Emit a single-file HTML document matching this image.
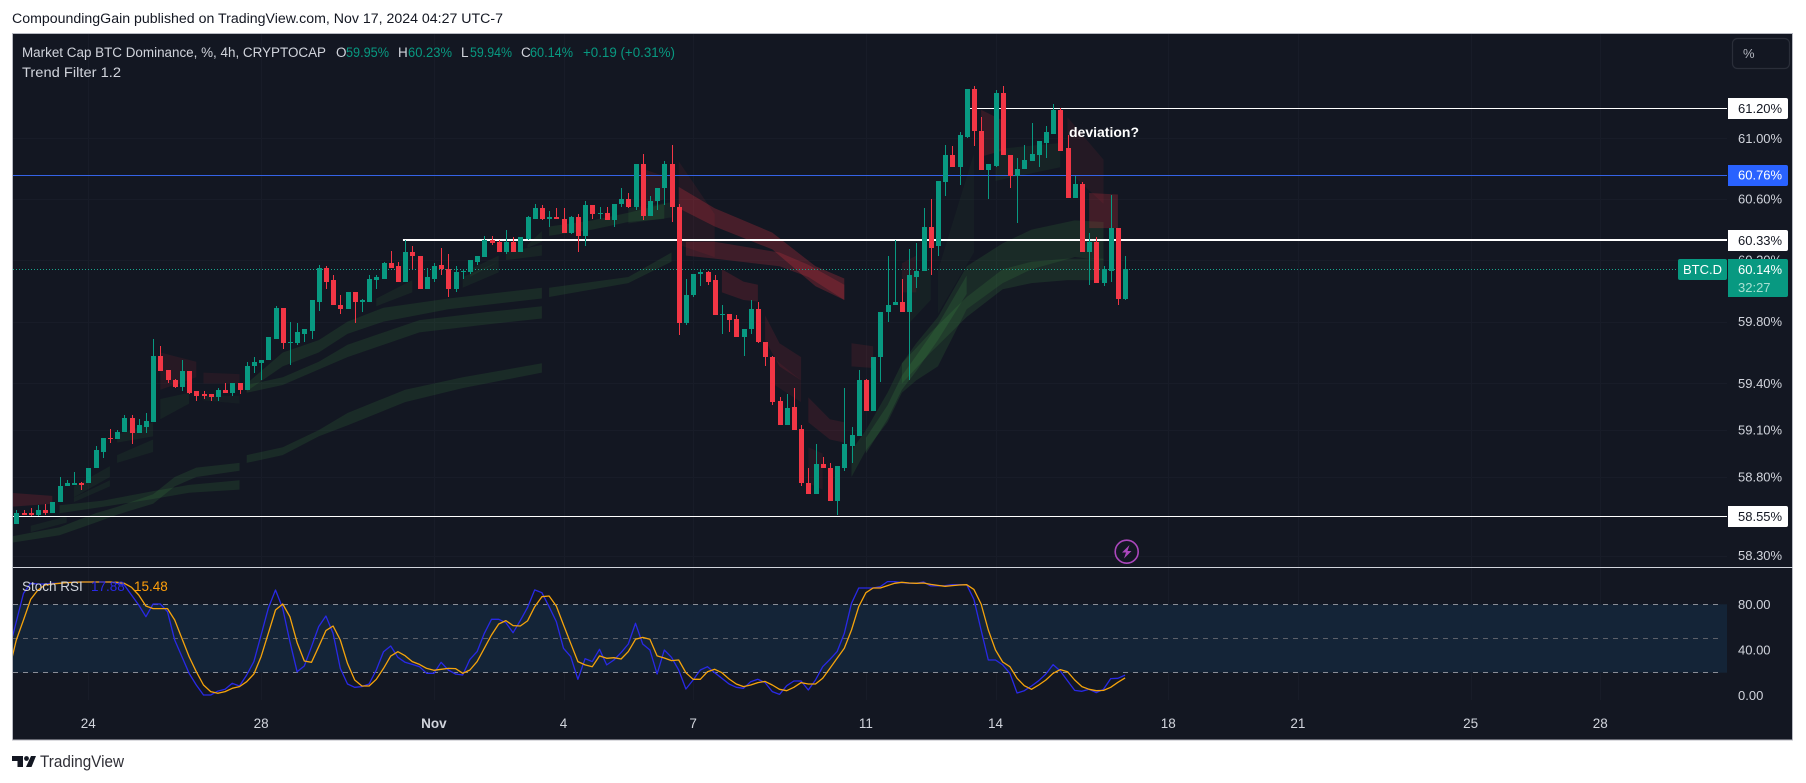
<!DOCTYPE html>
<html lang="en">
<head>
<meta charset="utf-8">
<title>BTC.D chart</title>
<style>
html,body{margin:0;padding:0;background:#fff;width:1806px;height:783px;overflow:hidden}
svg{display:block}
text{font-family:"Liberation Sans",sans-serif}
</style>
</head>
<body>
<svg id="chart" xmlns="http://www.w3.org/2000/svg" width="1806" height="783" viewBox="0 0 1806 783">
  <defs>
    <clipPath id="clip-price"><rect x="13" y="34" width="1714" height="533"/></clipPath>
    <clipPath id="clip-stoch"><rect x="13" y="568" width="1714" height="172"/></clipPath>
  </defs>
  <text x="12" y="23" font-size="13.5" fill="#131722" textLength="491" lengthAdjust="spacingAndGlyphs">CompoundingGain published on TradingView.com, Nov 17, 2024 04:27 UTC-7</text>
  <rect x="12.5" y="33.5" width="1780" height="706.5" fill="#131722" stroke="#b8bac2" stroke-width="1"/>
  <g id="grid"></g>
  <rect x="13" y="604.3" width="1714" height="68.4" fill="#142437"/>
  <g id="stoch-guides"></g>
  <g id="ribbons" clip-path="url(#clip-price)"></g>
  <g id="levels" clip-path="url(#clip-price)"></g>
  <g id="candles" clip-path="url(#clip-price)" shape-rendering="crispEdges"></g>
  <g id="stoch-lines" clip-path="url(#clip-stoch)"></g>
  <line x1="13" x2="1793" y1="567.5" y2="567.5" stroke="#d1d4dc" stroke-width="1"/>
  <g id="axis-labels"></g>
  <g id="level-tags"></g>

  <g>
    <rect x="1678" y="259" width="49" height="21" rx="2" fill="#089981"/>
    <text x="1683" y="274" font-size="13" fill="#ffffff" textLength="39" lengthAdjust="spacingAndGlyphs">BTC.D</text>
    <path d="M1728 259H1786a2 2 0 0 1 2 2V295a2 2 0 0 1 -2 2H1728Z" fill="#089981"/>
    <text x="1738" y="274" font-size="13" fill="#ffffff">60.14%</text>
    <text x="1738" y="292" font-size="13" fill="#a8e0d2">32:27</text>
  </g>

  <g>
    <rect x="1732.5" y="38.5" width="57" height="30" rx="5" fill="#131722" stroke="#2a2e39" stroke-width="1.2"/>
    <text x="1743" y="58" font-size="13" fill="#b2b5be">%</text>
  </g>

  <g font-size="13.5">
    <text x="22" y="57" fill="#d1d4dc" textLength="304" lengthAdjust="spacingAndGlyphs">Market Cap BTC Dominance, %, 4h, CRYPTOCAP</text>
    <text x="336" y="57" fill="#d1d4dc">O</text>
    <text x="346" y="57" fill="#089981" textLength="43" lengthAdjust="spacingAndGlyphs">59.95%</text>
    <text x="398" y="57" fill="#d1d4dc">H</text>
    <text x="408" y="57" fill="#089981" textLength="44" lengthAdjust="spacingAndGlyphs">60.23%</text>
    <text x="461" y="57" fill="#d1d4dc">L</text>
    <text x="470" y="57" fill="#089981" textLength="42" lengthAdjust="spacingAndGlyphs">59.94%</text>
    <text x="521" y="57" fill="#d1d4dc">C</text>
    <text x="530" y="57" fill="#089981" textLength="43" lengthAdjust="spacingAndGlyphs">60.14%</text>
    <text x="583" y="57" fill="#089981" textLength="92" lengthAdjust="spacingAndGlyphs">+0.19 (+0.31%)</text>
    <text x="22" y="77" fill="#d1d4dc" textLength="99" lengthAdjust="spacingAndGlyphs">Trend Filter 1.2</text>
  </g>

  <text x="1069" y="137" font-size="14" font-weight="700" fill="#ffffff">deviation?</text>

  <g>
    <circle cx="1126.7" cy="551.7" r="11.5" fill="#131722" stroke="#ab47bc" stroke-width="1.6"/>
    <path d="M1129.5 545L1122 552.5H1126L1124 558.5L1131.5 551H1127.5Z" fill="#ab47bc"/>
  </g>

  <g font-size="13.5">
    <text x="22" y="591" fill="#d1d4dc">Stoch RSI</text>
    <text x="91" y="591" fill="#2929e6">17.88</text>
    <text x="134" y="591" fill="#ff9f0a">15.48</text>
  </g>

  <g>
    <path d="M12 756H23V767H17.5V761H12ZM31 756H36L31.5 767H26Z" fill="#131722"/>
    <circle cx="26.5" cy="758.5" r="2.4" fill="#131722"/>
    <text x="40" y="767" font-size="16.5" fill="#2e2e35" textLength="84" lengthAdjust="spacingAndGlyphs">TradingView</text>
  </g>
</svg>

<script>
// ---- Price series: one row per 4h bar: open, high, low, close (percent)
const ohlcRows = [
[58.50,58.59,58.50,58.57],[58.57,58.59,58.56,58.56],[58.57,58.60,58.55,58.56],[58.56,58.62,58.55,58.59],[58.59,58.63,58.56,58.57],
[58.57,58.64,58.57,58.64],[58.64,58.80,58.64,58.74],[58.74,58.78,58.74,58.76],[58.75,58.83,58.75,58.76],[58.76,58.77,58.72,58.75],
[58.76,58.86,58.76,58.86],[58.86,59.00,58.86,58.97],[58.96,59.05,58.92,59.05],[59.05,59.11,59.02,59.04],[59.04,59.10,59.04,59.09],
[59.09,59.20,59.09,59.18],[59.18,59.20,59.01,59.08],[59.08,59.17,59.08,59.13],[59.12,59.21,59.08,59.16],[59.15,59.69,59.15,59.58],
[59.58,59.64,59.48,59.48],[59.49,59.49,59.40,59.42],[59.42,59.43,59.37,59.38],[59.38,59.55,59.35,59.48],[59.48,59.48,59.33,59.34],
[59.35,59.35,59.29,59.32],[59.33,59.35,59.30,59.32],[59.33,59.33,59.29,59.31],[59.31,59.37,59.29,59.36],[59.36,59.40,59.34,59.34],
[59.34,59.40,59.32,59.40],[59.40,59.40,59.33,59.36],[59.36,59.54,59.36,59.51],[59.51,59.57,59.47,59.54],[59.53,59.55,59.42,59.55],
[59.55,59.70,59.55,59.70],[59.69,59.90,59.69,59.89],[59.89,59.89,59.62,59.66],[59.66,59.80,59.52,59.67],[59.66,59.79,59.65,59.73],
[59.72,59.75,59.67,59.75],[59.74,59.94,59.69,59.94],[59.93,60.17,59.87,60.15],[60.15,60.16,60.01,60.06],[60.07,60.10,59.91,59.91],
[59.91,59.97,59.85,59.88],[59.88,59.99,59.88,59.99],[59.99,59.99,59.79,59.93],[59.93,59.95,59.86,59.94],[59.93,60.10,59.93,60.08],
[60.07,60.10,60.01,60.09],[60.08,60.19,60.08,60.18],[60.18,60.26,60.15,60.15],[60.16,60.19,60.06,60.06],[60.06,60.33,60.06,60.25],
[60.25,60.29,60.14,60.23],[60.23,60.23,60.01,60.01],[60.01,60.15,60.01,60.09],[60.08,60.18,60.06,60.16],[60.17,60.28,60.10,60.14],
[60.14,60.24,59.96,60.01],[60.01,60.16,59.99,60.12],[60.12,60.14,60.08,60.13],[60.12,60.20,60.11,60.20],[60.19,60.23,60.17,60.23],
[60.22,60.36,60.22,60.33],[60.33,60.36,60.30,60.31],[60.32,60.33,60.25,60.25],[60.25,60.40,60.24,60.32],[60.32,60.35,60.25,60.25],
[60.25,60.35,60.25,60.35],[60.34,60.49,60.33,60.48],[60.47,60.57,60.47,60.54],[60.54,60.56,60.46,60.47],[60.47,60.52,60.42,60.48],
[60.48,60.54,60.47,60.47],[60.47,60.54,60.38,60.38],[60.38,60.49,60.37,60.48],[60.48,60.50,60.25,60.36],[60.36,60.59,60.29,60.56],
[60.56,60.56,60.47,60.50],[60.50,60.55,60.47,60.51],[60.51,60.55,60.46,60.46],[60.46,60.57,60.42,60.57],[60.57,60.67,60.55,60.60],
[60.60,60.64,60.54,60.55],[60.55,60.83,60.53,60.83],[60.83,60.90,60.46,60.49],[60.49,60.62,60.49,60.59],[60.59,60.67,60.53,60.67],
[60.67,60.85,60.56,60.83],[60.83,60.96,60.45,60.55],[60.55,60.57,59.71,59.79],[59.79,60.08,59.78,59.97],[59.97,60.11,59.96,60.11],
[60.11,60.14,60.03,60.12],[60.12,60.13,60.04,60.06],[60.07,60.10,59.84,59.84],[59.84,59.91,59.72,59.85],[59.85,59.85,59.73,59.81],
[59.82,59.84,59.70,59.70],[59.70,59.75,59.58,59.75],[59.75,59.94,59.72,59.88],[59.88,59.93,59.66,59.67],[59.67,59.67,59.51,59.57],
[59.57,59.58,59.26,59.28],[59.29,59.31,59.13,59.13],[59.13,59.33,59.13,59.24],[59.25,59.37,59.10,59.10],[59.11,59.13,58.74,58.76],
[58.76,58.86,58.69,58.69],[58.69,59.01,58.69,58.88],[58.88,58.93,58.86,58.86],[58.86,58.89,58.65,58.65],[58.65,58.87,58.56,58.87],
[58.86,59.37,58.84,59.01],[59.00,59.12,58.89,59.07],[59.06,59.49,59.06,59.42],[59.42,59.43,59.22,59.22],[59.22,59.57,59.22,59.57],
[59.57,59.86,59.41,59.86],[59.86,60.23,59.80,59.91],[59.91,60.33,59.91,59.93],[59.93,60.08,59.86,59.86],[59.86,60.27,59.42,60.10],
[60.09,60.31,60.02,60.13],[60.13,60.54,60.13,60.42],[60.42,60.60,60.10,60.28],[60.29,60.72,60.23,60.72],[60.71,60.96,60.62,60.89],
[60.89,60.95,60.81,60.81],[60.81,61.04,60.69,61.02],[61.01,61.33,61.00,61.33],[61.33,61.35,60.95,61.05],[61.05,61.14,60.79,60.79],
[60.79,60.83,60.60,60.83],[60.82,61.32,60.81,61.30],[61.30,61.35,60.89,60.89],[60.89,60.89,60.67,60.75],[60.75,60.87,60.44,60.80],
[60.80,60.96,60.80,60.86],[60.85,61.10,60.85,60.90],[60.89,60.98,60.81,60.98],[60.97,61.08,60.87,61.04],[61.03,61.23,61.03,61.19],
[61.19,61.20,60.92,60.92],[60.94,61.02,60.61,60.61],[60.61,60.75,60.61,60.70],[60.70,60.71,60.25,60.25],[60.25,60.38,60.04,60.32],
[60.32,60.35,60.05,60.05],[60.05,60.16,60.03,60.14],[60.13,60.63,60.06,60.41],[60.41,60.41,59.91,59.95],[59.95,60.23,59.94,60.14]
];

// ---- Stochastic RSI: first value sits one bar before the first candle
const stochK = [39.9,64.8,89.6,98.4,97.8,97.8,98.4,98.4,99,99.6,99.6,99.6,99.6,99.6,99.6,98.4,96.9,88.2,79.4,69.1,80.3,80.3,73.5,48.7,34.1,19.5,9.2,0.4,0.4,3.9,5.4,10.7,8.3,18,29.7,53.1,76.5,92.5,76.5,47.2,20.9,25.9,42.8,60.4,69.7,54.5,23.8,10.1,7.2,7.8,10.1,22.4,38.4,43.4,33.5,29.1,27.3,25.3,19.5,19.5,29.1,22.4,18.9,18,31.7,38.5,54.5,66.8,66.8,63.9,55.1,65.7,77.1,92.6,90.2,77.9,64.8,41.4,34.1,14.2,32.3,29.7,40.5,26.8,31.1,37.6,45.2,63.3,45.2,39.9,18.9,39.9,33.5,22.4,5.7,13.6,22.4,25.3,20,15.1,10.1,7.2,6.3,12.1,14.2,11.3,3.4,1,8.6,12.7,12.7,4.8,13.6,25.3,31.7,38.5,54.5,80.9,94.3,94.3,94.3,95.5,99.9,99.9,99,98.4,98.4,99.6,96.1,96.1,96.4,97.2,97.2,97.2,84.4,57.5,31.1,31.1,26.8,19.5,2.2,4.2,8.3,13,18.9,27.1,21.5,13,4.5,3.7,5.4,2.5,5.4,14.8,15.1,17.88];
const stochD = [22.4,48.7,66.2,84.4,92.5,96.9,97.8,98.4,99,99.3,99.6,99.6,99.6,99.6,99.6,99.3,98.4,94.9,88.2,78.5,76.2,76.2,76.2,66.2,50.1,34.1,20.9,9.2,3.4,1.9,3.4,6.3,7.8,12.1,18.9,34.1,54.5,75,80.3,69.1,46.4,30.3,29.1,42.8,56.9,61,48.7,28.2,13.6,8.3,8.3,14.2,23.8,34.6,38.4,34.9,29.7,27.3,23.8,22.1,23,23.8,23.6,19.5,22.4,29.7,41.4,53.1,62.7,65.7,61.3,61,65.4,77.9,86.7,87.3,78.5,61.9,45.8,29.7,26.8,25.3,34.7,32.6,33.2,32,38.5,49.3,51,49.3,34.7,32.9,30.6,31.1,20,14.2,14.2,20.9,23,20,14.5,10.1,7.8,9.2,11.3,12.4,9.2,5.4,4.2,7.2,11.3,10.1,10.1,15.1,23.8,32.6,41.4,57.5,77.9,90.2,94.3,94.3,96.4,98.4,99.3,98.7,98.4,98.7,97.5,96.6,95.8,96.4,96.9,97.2,93.1,80.3,57.5,39.9,29.4,25.3,15.1,8.6,5.4,9.2,13.6,19.5,22.7,20.9,13.6,7.8,5.4,4.2,4.5,7.2,11.6,15.48];

// ---- Trend Filter ribbons: bar numbers and band edges in percent
const ribbonKind = ['up','up','down','up','up','up','up','up','up','down','down','up','up','up','up','up','up','up','up','up','up','up','up','down','down','down','down','down','down','down','down','down','down','down','down','up','up','up','up','up','up','down','down','down'];
const ribbonStrength = [0.55,0.5,0.6,0.3,0.3,0.3,0.3,0.3,0.3,0.35,0.3,0.2,0.5,0.5,0.5,0.35,0.3,0.3,0.35,0.35,0.5,0.5,0.35,0.4,0.9,0.75,0.3,0.6,0.45,0.3,0.45,0.3,0.4,0.35,0.3,0.5,0.6,0.55,0.25,0.2,0.3,0.3,0.3,0.8];
const ribbonBars = [
[-1,6,11,14,19,22,25,31],[6,12,19,24,31],[-1,5],[2,7],[8,13],[8,13],[14,19],[14,19],[20,24],[20,25],[26,31],[26,31],
[32,37,42,46,54,62,73],[32,37,42,46,51,60,73],[32,37,42,46,56,65,73],[50,55],[62,67],[63,67],[68,73],[71,73],
[74,80,85,90],[74,85,91],[85,91],[87,90],[92,97,105,111,115],[93,97,106,110,115],[92,97],[98,101,103],[104,106,109],[105,109],[110,113,115],[110,112],[116,119],[123,125],[134,137],
[116,118,121,123,125,128,132,137,141,147,151],[118,121,123,125,128,132],[123,127,132,137,141,146,151],[124,127],[128,133],[136,145],[134,137],[146,151],[149,153]
];
const ribbonTop = [
[58.42,58.48,58.57,58.61,58.69,58.80,58.86,58.89],[58.62,58.65,58.71,58.75,58.78],[58.70,58.68],[58.49,58.55],[58.67,58.78],[58.74,58.87],[58.94,59.04],[59.07,59.15],[59.30,59.34],[59.60,59.54],[59.47,59.46],[59.32,59.32],
[58.94,58.99,59.10,59.21,59.36,59.44,59.53],[59.40,59.60,59.68,59.80,59.89,59.95,60.02],[59.39,59.44,59.54,59.65,59.81,59.86,59.90],[59.95,60.07],[60.09,60.19],[60.14,60.23],[60.25,60.30],[60.30,60.39],
[60.42,60.46,60.51,60.57],[60.02,60.09,60.25],[60.54,60.58],[60.80,60.75],[60.68,60.54,60.38,60.16,60.08],[60.32,60.32,60.25,60.17,60.04],[60.85,60.50],[60.14,60.06,60.04],[59.84,59.66,59.57],[59.57,59.42],[59.31,59.17,59.15],[58.99,58.95],[59.66,59.64],[60.18,60.23],[61.19,61.12],
[58.97,59.10,59.34,59.53,59.66,59.83,60.16,60.31,60.40,60.46,60.45],[59.05,59.26,59.45,59.58,59.78,60.10],[59.53,59.73,59.96,60.14,60.19,60.21,60.21],[60.09,60.16],[60.13,60.90],[60.93,60.97],[61.19,61.12],[61.14,60.86],[60.64,60.63]
];
const ribbonBottom = [
[58.38,58.43,58.51,58.56,58.63,58.74,58.80,58.84],[58.57,58.61,58.66,58.70,58.72],[58.61,58.63],[58.45,58.51],[58.64,58.74],[58.67,58.80],[58.89,58.96],[59.02,59.06],[59.17,59.27],[59.36,59.44],[59.40,59.40],[59.29,59.27],
[58.89,58.94,59.06,59.13,59.28,59.37,59.47],[59.35,59.51,59.60,59.72,59.80,59.88,59.95],[59.34,59.39,59.49,59.57,59.73,59.78,59.82],[59.90,59.99],[60.02,60.12],[60.09,60.19],[60.20,60.23],[60.28,60.32],
[60.36,60.40,60.45,60.47],[59.96,60.05,60.19],[60.44,60.48],[60.55,60.60],[60.54,60.42,60.27,60.03,59.94],[60.23,60.21,60.16,60.09,59.94],[60.30,60.22],[59.99,59.94,59.93],[59.68,59.51,59.42],[59.40,59.28],[59.15,59.04,59.02],[58.76,58.72],[59.51,59.50],[59.99,59.99],[60.88,60.92],
[58.80,58.97,59.15,59.34,59.42,59.51,59.88,60.05,60.14,60.22,60.20],[58.95,59.17,59.36,59.48,59.68,59.98],[59.40,59.60,59.83,60.01,60.05,60.07,60.07],[59.79,59.94],[59.85,60.25],[60.72,60.81],[60.88,60.92],[60.79,60.57],[60.41,60.41]
];

// ---- Axes and drawn levels
const priceTicks = [61.00,60.60,60.20,59.80,59.40,59.10,58.80,58.30];
const stochTicks = [80,40,0];
const stochGuides = [80,50,20];
const timeLabels = ['24','28','Nov','4','7','11','14','18','21','25','28'];
const timeBars = [10,34,58,76,94,118,136,160,178,202,220];
const levelValues = [61.20,60.76,60.33,58.55];
const levelStartBars = [132.3,-2,53.7,-2];
const levelColors = ['#ffffff','#3563e6','#ffffff','#ffffff'];
const levelWeights = [1,1,2,1];
const lastClose = 60.14;

const NS = 'http://www.w3.org/2000/svg';
function x(bar){ return 16.3 + 7.2 * bar; }
function y(price){ return 108.3 + 9217 * Math.log(61.2 / price); }
function yStoch(v){ return 695.5 - 1.14 * v; }
function make(tag, attrs, parent){
  const el = document.createElementNS(NS, tag);
  for (const key in attrs) el.setAttribute(key, attrs[key]);
  parent.appendChild(el);
  return el;
}
const gridG = document.getElementById('grid');
const guidesG = document.getElementById('stoch-guides');
const ribbonsG = document.getElementById('ribbons');
const levelsG = document.getElementById('levels');
const candlesG = document.getElementById('candles');
const stochG = document.getElementById('stoch-lines');
const labelsG = document.getElementById('axis-labels');
const tagsG = document.getElementById('level-tags');

timeBars.forEach(function(bar, n){
  const gx = Math.round(x(bar)) + 0.5;
  const line = make('line', {x1: gx, x2: gx, y1: 34, y2: 700, stroke: '#181c28', 'stroke-width': 1}, gridG);
  
  
  const bold = timeLabels[n] === 'Nov';
  const label = make('text', {x: x(bar), y: 728, 'font-size': 13.5, fill: '#d1d4dc', 'text-anchor': 'middle', 'font-weight': bold ? 700 : 400}, labelsG);
  label.textContent = timeLabels[n];
  
  
});

priceTicks.forEach(function(p){
  const gy = Math.round(y(p)) + 0.5;
  const line = make('line', {x1: 13, x2: 1727, y1: gy, y2: gy, stroke: '#181c28', 'stroke-width': 1}, gridG);
  
  
  const label = make('text', {x: 1738, y: y(p) + 4.5, 'font-size': 13, fill: '#d1d4dc'}, labelsG);
  label.textContent = p.toFixed(2) + '%';
  
  
});

stochTicks.forEach(function(v){
  const label = make('text', {x: 1738, y: yStoch(v) + 4.5, 'font-size': 13, fill: '#d1d4dc'}, labelsG);
  label.textContent = v.toFixed(2);
  
  
});

stochGuides.forEach(function(v){
  const gy = Math.floor(yStoch(v)) + 0.5;
  const guide = make('line', {x1: 13, x2: 1722, y1: gy, y2: gy, stroke: v === 50 ? '#5d6069' : '#8a8d96', 'stroke-width': 1, 'stroke-dasharray': '5 5'}, guidesG);
  
  
});

ribbonBars.forEach(function(bars, n){
  const alpha = ribbonStrength[n] * 0.26;
  const fill = ribbonKind[n] === 'up' ? 'rgba(76,175,80,' + alpha + ')' : 'rgba(242,54,69,' + alpha + ')';
  const pts = [];
  bars.forEach(function(b, k){ pts.push(x(b).toFixed(1) + ',' + y(ribbonTop[n][k]).toFixed(1)); });
  for (let k = bars.length - 1; k >= 0; k--) pts.push(x(bars[k]).toFixed(1) + ',' + y(ribbonBottom[n][k]).toFixed(1));
  const band = make('polygon', {points: pts.join(' '), fill: fill}, ribbonsG);
  
  
});

const lastY = Math.round(y(lastClose)) + 0.5;
const lastLine = make('line', {x1: 13, x2: 1678, y1: lastY, y2: lastY, stroke: '#1aa68f', 'stroke-width': 1, 'stroke-dasharray': '1 2'}, levelsG);



levelValues.forEach(function(level, n){
  const weight = levelWeights[n];
  const ly = Math.round(y(level)) + (weight % 2 ? 0.5 : 0);
  const line = make('line', {x1: x(levelStartBars[n]), x2: 1727, y1: ly, y2: ly, stroke: levelColors[n], 'stroke-width': weight}, levelsG);
  
  
  const blue = levelColors[n] !== '#ffffff';
  const top = Math.round(y(level)) - 10;
  const box = make('path', {d: 'M1728 ' + top + 'H1786a2 2 0 0 1 2 2V' + (top + 19) + 'a2 2 0 0 1 -2 2H1728Z', fill: blue ? '#2962ff' : '#ffffff'}, tagsG);
  
  
  const txt = make('text', {x: 1738, y: y(level) + 4.5, 'font-size': 13, fill: blue ? '#ffffff' : '#131722'}, tagsG);
  txt.textContent = level.toFixed(2) + '%';
  
  
});

ohlcRows.forEach(function(row, bar){
  const open = row[0], high = row[1], low = row[2], close = row[3];
  const color = close >= open ? '#089981' : '#f23645';
  const cx = Math.round(x(bar));
  const wick = make('rect', {x: cx, y: Math.round(y(high)), width: 1, height: Math.max(1, Math.round(y(low)) - Math.round(y(high))), fill: color}, candlesG);
  
  
  const top = Math.round(y(Math.max(open, close)));
  const bottom = Math.round(y(Math.min(open, close)));
  const body = make('rect', {x: cx - 2, y: top, width: 5, height: Math.max(1, bottom - top), fill: color}, candlesG);
  
  
});

function stochPath(values){
  return values.map(function(v, n){
    return (n ? 'L' : 'M') + x(n - 1).toFixed(1) + ' ' + yStoch(v).toFixed(1);
  }).join('');
}
const kLine = make('path', {d: stochPath(stochK), fill: 'none', stroke: '#2929e6', 'stroke-width': 1.3, 'stroke-linejoin': 'round'}, stochG);


const dLine = make('path', {d: stochPath(stochD), fill: 'none', stroke: '#f5a30b', 'stroke-width': 1.3, 'stroke-linejoin': 'round'}, stochG);


</script>
</body>
</html>
